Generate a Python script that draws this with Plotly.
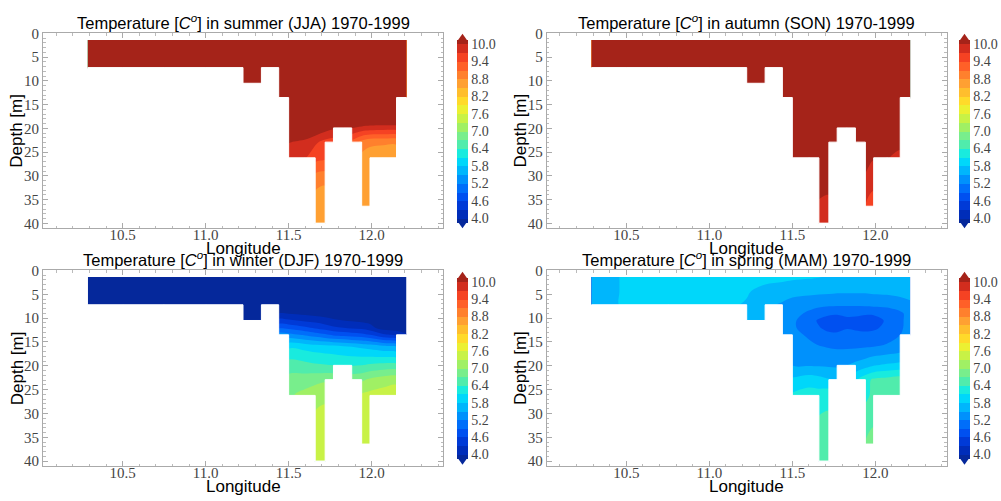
import numpy as np
import plotly.graph_objects as go

N = None
# grid nodes
lon = [10.29, 10.5, 10.75, 11.0, 11.225, 11.336, 11.44, 11.50, 11.6, 11.66, 11.72,
       11.77, 11.83, 11.88, 11.94, 11.99, 12.07, 12.15, 12.21]
depth = [1.4, 4.5, 7.2, 9.0, 10.5, 12.0, 13.5, 16.0, 19.9, 22.9, 26.2, 31.0, 36.4, 40.0]
# sea-floor depth of each column between consecutive lon nodes
bottom = [7.2, 7.2, 7.2, 7.2, 10.5, 7.2, 13.5, 26.2, 26.2, 40.0, 22.9, 19.9, 19.9,
          22.9, 36.4, 26.2, 26.2, 13.5]

summer = [
    [12.5] * 19,
    [12.4] * 19,
    [12.2] * 19,
    [N, N, N, N, 12.0, 12.0] + [11.9] * 13,
    [N, N, N, N, 11.8, 11.8] + [11.7] * 13,
    [N] * 6 + [11.5] * 13,
    [N] * 6 + [11.3] * 13,
    [N] * 7 + [10.9] * 11 + [N],
    [N] * 7 + [10.6, 10.45, 10.3, 10.15, 10.05, 10.0, 10.0, 9.92, 9.87, 9.85, 9.85, N],
    [N] * 7 + [10.02, 9.9, 9.75, 9.6, 9.55, N, 9.3, 9.0, 8.87, 8.85, 8.85, N],
    [N] * 7 + [9.8, 9.72, 9.52, 9.45, N, N, N, 8.7, 8.65, 8.6, 8.55, N],
    [N] * 9 + [8.9, 8.85, N, N, N, 8.6, 8.6, N, N, N],
    [N] * 9 + [8.65, 8.6, N, N, N, 8.6, 8.6, N, N, N],
    [N] * 9 + [8.6, 8.6] + [N] * 8,
]

autumn = [
    [12.5] * 19,
    [12.4] * 19,
    [12.2] * 19,
    [N, N, N, N, 12.0, 12.0] + [12.0] * 13,
    [N, N, N, N, 11.8, 11.8] + [11.8] * 13,
    [N] * 6 + [11.6] * 13,
    [N] * 6 + [11.4] * 13,
    [N] * 7 + [11.2] * 11 + [N],
    [N] * 7 + [11.0] * 11 + [N],
    [N] * 7 + [10.8, 10.8, 10.7, 10.7, 10.7, N, 10.6, 10.5, 10.4, 10.3, 10.1, N],
    [N] * 7 + [10.6, 10.55, 10.45, 10.4, N, N, N, 10.2, 10.02, 10.02, 9.9, N],
    [N] * 9 + [10.2, 10.15, N, N, N, 9.9, 9.8, N, N, N],
    [N] * 9 + [9.93, 9.88, N, N, N, 9.7, 9.55, N, N, N],
    [N] * 9 + [9.85, 9.8] + [N] * 8,
]

winter = [
    [3.5] * 19,
    [3.5] * 19,
    [3.6] * 6 + [3.7] * 13,
    [N, N, N, N, 3.7, 3.7, 4.0, 3.98, 3.92, 3.88, 3.85, 3.82, 3.8, 3.78, 3.75, 3.72, 3.7, 3.68, 3.65],
    [N, N, N, N, 3.8, 3.8, 4.4, 4.35, 4.25, 4.2, 4.12, 4.05, 4.0, 3.97, 3.93, 3.9, 3.85, 3.8, 3.78],
    [N] * 6 + [4.85, 4.8, 4.65, 4.55, 4.45, 4.35, 4.3, 4.25, 4.2, 4.1, 3.85, 3.8, 3.75],
    [N] * 6 + [5.35, 5.3, 5.15, 5.05, 4.95, 4.85, 4.8, 4.75, 4.7, 4.6, 4.35, 4.25, 4.05],
    [N] * 7 + [6.05, 6.0, 5.95, 5.92, 5.9, 5.85, 5.8, 5.75, 5.7, 5.6, 5.55, N],
    [N] * 7 + [6.55, 6.5, 6.45, 6.42, 6.4, 6.38, 6.38, 6.4, 6.45, 6.5, 6.5, N],
    [N] * 7 + [6.8, 6.85, 6.9, 6.95, 6.95, N, 6.9, 6.95, 7.05, 7.15, 7.2, N],
    [N] * 7 + [6.95, 7.1, 7.2, 7.25, N, N, N, 7.35, 7.4, 7.45, 7.5, N],
    [N] * 9 + [7.35, 7.38, N, N, N, 7.45, 7.45, N, N, N],
    [N] * 9 + [7.45, 7.45, N, N, N, 7.5, 7.5, N, N, N],
    [N] * 9 + [7.5, 7.5] + [N] * 8,
]

spring = [
    [5.6, 5.85, 5.92, 5.92, 5.9, 5.88, 5.86, 5.85, 5.83, 5.81, 5.78, 5.76, 5.75, 5.74, 5.74, 5.74, 5.74, 5.75, 5.76],
    [5.6, 5.85, 5.92, 5.9, 5.82, 5.72, 5.68, 5.62, 5.58, 5.56, 5.55, 5.53, 5.53, 5.53, 5.53, 5.55, 5.56, 5.6, 5.65],
    [5.62, 5.85, 5.9, 5.88, 5.78, 5.6, 5.45, 5.35, 5.3, 5.27, 5.25, 5.24, 5.24, 5.24, 5.25, 5.27, 5.3, 5.35, 5.42],
    [N, N, N, N, 5.7, 5.55, 5.42, 5.3, 5.15, 5.05, 4.98, 4.95, 4.98, 4.98, 4.95, 4.95, 5.0, 5.15, 5.3],
    [N, N, N, N, 5.65, 5.5, 5.38, 5.25, 5.05, 4.85, 4.7, 4.7, 4.82, 4.8, 4.72, 4.75, 4.95, 5.15, 5.3],
    [N] * 6 + [5.38, 5.25, 5.05, 4.92, 4.8, 4.8, 4.88, 4.85, 4.82, 4.85, 4.97, 5.15, 5.32],
    [N] * 6 + [5.4, 5.3, 5.15, 5.02, 4.97, 4.96, 4.98, 4.98, 4.97, 4.98, 5.05, 5.2, 5.38],
    [N] * 7 + [5.35, 5.28, 5.22, 5.18, 5.16, 5.16, 5.16, 5.18, 5.2, 5.25, 5.32, N],
    [N] * 7 + [5.5, 5.48, 5.47, 5.46, 5.45, 5.5, 5.58, 5.68, 5.78, 5.85, 5.9, N],
    [N] * 7 + [5.85, 5.95, 5.9, 5.82, 5.8, N, 6.05, 6.3, 6.45, 6.5, 6.55, N],
    [N] * 7 + [6.15, 6.25, 6.25, 6.3, N, N, N, 6.35, 6.45, 6.5, 6.55, N],
    [N] * 9 + [6.42, 6.45, N, N, N, 6.5, 6.65, N, N, N],
    [N] * 9 + [6.5, 6.5, N, N, N, 6.72, 6.8, N, N, N],
    [N] * 9 + [6.5, 6.5] + [N] * 8,
]

titles = ["summer (JJA)", "autumn (SON)", "winter (DJF)", "spring (MAM)"]
seasons = [summer, autumn, winter, spring]
tick_vals = [4.0, 4.6, 5.2, 5.8, 6.4, 7.0, 7.6, 8.2, 8.8, 9.4, 10.0]

# band colours: under, 20 bands (4.0..10.0 step 0.3), over
band_colors = [
    (5, 40, 155), (0, 45, 185), (0, 58, 215), (0, 80, 240), (0, 110, 250),
    (0, 145, 252), (0, 182, 252), (0, 215, 250), (25, 235, 222), (80, 236, 172),
    (120, 238, 140), (160, 240, 100), (200, 242, 70), (236, 240, 50), (255, 218, 42),
    (255, 190, 45), (255, 160, 50), (255, 128, 45), (255, 96, 40), (245, 66, 35),
    (210, 45, 30), (165, 35, 25),
]
colorscale = [[i / (len(band_colors) - 1), "rgb(%d,%d,%d)" % c] for i, c in enumerate(band_colors)]

W, H = 1001, 501
panels = [  # (x0, x1, y0, y1) in pixels of plot frame
    (43, 443, 26, 225),
    (546.7, 946.7, 26, 225),
    (43, 443, 268.3, 468.3),
    (546.7, 946.7, 268.3, 468.3),
]
cbars = [  # bar left x, value-10 y, value-4 y (pixels)
    (457, 34.3, 217.3),
    (959, 34.3, 217.3),
    (457, 277.7, 459.0),
    (959, 277.7, 459.0),
]
cb_thick = 11
tri_h = 8

# land polygons (columns below the sea floor), built from the bottom depths
land_x, land_y = [], []
for i in range(len(lon) - 1):
    xa_, xb_ = lon[i], lon[i + 1]
    land_x += [xa_, xb_, xb_, xa_, xa_, None]
    land_y += [bottom[i], bottom[i], depth[-1], depth[-1], bottom[i], None]

fig = go.Figure()
layout = dict(width=W, height=H, margin=dict(l=0, r=0, t=0, b=0),
              paper_bgcolor="white", plot_bgcolor="white", showlegend=False)
annotations = []
shapes = []

tickfont = dict(family="Liberation Serif", size=15, color="#444")
cbfont = dict(family="Liberation Serif", size=14, color="#444")
for k in range(4):
    ax = "" if k == 0 else str(k + 1)
    xa, ya = "x" + ax, "y" + ax
    x0, x1, y0, y1 = panels[k]
    z = np.array(seasons[k], dtype=float)
    cbx, cbt, cbb = cbars[k]
    fig.add_trace(go.Contour(
        x=lon, y=depth, z=z, xaxis=xa, yaxis=ya,
        colorscale=colorscale, autocontour=False, connectgaps=False,
        contours=dict(start=4.0, end=10.0, size=0.3, coloring="fill", showlines=False),
        line=dict(width=0), hoverinfo="skip",
        colorbar=dict(
            x=cbx / W, xanchor="left", thickness=cb_thick, thicknessmode="pixels",
            len=(cbb - cbt), lenmode="pixels", y=1 - (cbt + cbb) / 2 / H, yanchor="middle",
            ypad=0, xpad=0, outlinewidth=0, tickvals=tick_vals,
            ticktext=["%.1f" % v for v in tick_vals], tickfont=cbfont, ticks="", ticklen=0,
        ),
    ))
    fig.add_trace(go.Scatter(
        x=land_x, y=land_y, xaxis=xa, yaxis=ya, mode="lines", fill="toself",
        fillcolor="white", line=dict(color="white", width=1), hoverinfo="skip",
    ))
    common = dict(showline=True, mirror="ticks", linecolor="#aaa", linewidth=1,
                  ticks="inside", ticklen=5, tickcolor="#aaa", showgrid=False,
                  zeroline=False, tickfont=tickfont)
    layout["xaxis" + ax] = dict(domain=[x0 / W, x1 / W], range=[10.02, 12.43],
                                anchor=ya, dtick=0.5, tick0=10.5, tickformat=".1f",
                                ticklabelstandoff=-7,
                                minor=dict(dtick=0.1, ticks="inside", ticklen=2.5, tickcolor="#bbb"),
                                **common)
    layout["yaxis" + ax] = dict(domain=[1 - y1 / H, 1 - y0 / H], range=[41, 0],
                                anchor=xa, dtick=5, tick0=0,
                                minor=dict(dtick=1, ticks="inside", ticklen=2.5, tickcolor="#bbb"),
                                **common)
    annotations.append(dict(
        text="Temperature [<i>C<sup>o</sup></i>] in %s 1970-1999" % titles[k],
        xref=xa + " domain", yref=ya + " domain", x=0.5, y=1, xanchor="center",
        yanchor="bottom", yshift=-1, showarrow=False,
        font=dict(family="Liberation Sans", size=16.5, color="black")))
    annotations.append(dict(
        text="Longitude", xref=xa + " domain", yref=ya + " domain", x=0.5, y=0,
        xanchor="center", yanchor="middle", yshift=-20, showarrow=False,
        font=dict(family="Liberation Sans", size=17, color="black")))
    annotations.append(dict(
        text="Depth [m]", xref=xa + " domain", yref=ya + " domain", x=0, y=0.5,
        xanchor="center", yanchor="middle", xshift=-26, textangle=-90, showarrow=False,
        font=dict(family="Liberation Sans", size=17, color="black")))
    # extension triangles of the colour bar
    bx0, bx1, bxm = cbx / W, (cbx + cb_thick) / W, (cbx + cb_thick / 2) / W
    shapes.append(dict(type="path", xref="paper", yref="paper",
                       path="M %f %f L %f %f L %f %f Z" % (bx0, 1 - cbt / H, bx1, 1 - cbt / H, bxm, 1 - (cbt - tri_h) / H),
                       fillcolor="rgb(%d,%d,%d)" % band_colors[-1], line=dict(width=0)))
    shapes.append(dict(type="path", xref="paper", yref="paper",
                       path="M %f %f L %f %f L %f %f Z" % (bx0, 1 - cbb / H, bx1, 1 - cbb / H, bxm, 1 - (cbb + tri_h) / H),
                       fillcolor="rgb(%d,%d,%d)" % band_colors[0], line=dict(width=0)))

layout["annotations"] = annotations
layout["shapes"] = shapes
fig.update_layout(**layout)
fig.write_html("out.html", config={"displayModeBar": False},
               post_script="document.body.style.margin='0px';document.body.style.overflow='hidden';")
